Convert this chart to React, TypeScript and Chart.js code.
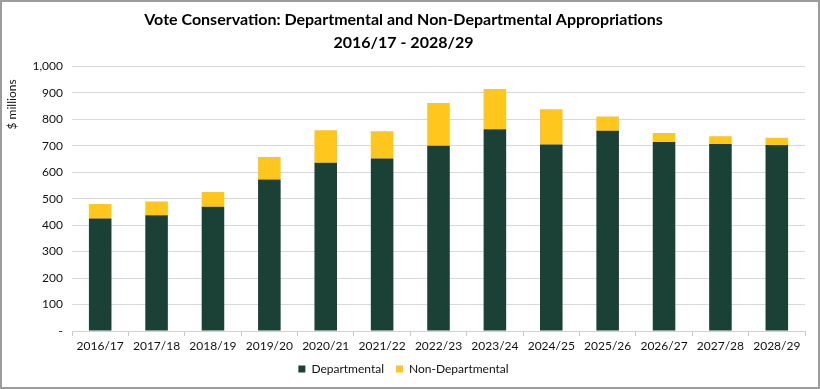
import React, { useEffect, useRef } from "react";
import { Chart, registerables } from "chart.js";

Chart.register(...registerables);

const categories = [
  "2016/17", "2017/18", "2018/19", "2019/20", "2020/21", "2021/22", "2022/23",
  "2023/24", "2024/25", "2025/26", "2026/27", "2027/28", "2028/29",
];
const departmental = [425, 437, 470, 573, 636, 652, 700, 762, 705, 757, 714, 707, 703];
const nonDepartmental = [55, 52, 55, 85, 123, 103, 162, 153, 133, 54, 34, 29, 27];
const yTicks = [0, 100, 200, 300, 400, 500, 600, 700, 800, 900, 1000];

const titleLines = [
  "Vote Conservation: Departmental and Non-Departmental Appropriations",
  "2016/17 - 2028/29",
];
const yAxisTitle = "$ millions";

const FONT = "Lato, 'Open Sans', 'DejaVu Sans', sans-serif";

const axisTitlePlugin = {
  id: "axisTitlePlugin",
  afterDraw(chart: any) {
    const ctx = chart.ctx;
    const area = chart.chartArea;
    ctx.save();
    ctx.font = `12px ${FONT}`;
    ctx.fillStyle = "#111";
    ctx.translate(10, area.top + 13);
    ctx.rotate(-Math.PI / 2);
    ctx.textAlign = "right";
    ctx.textBaseline = "middle";
    ctx.fillText(yAxisTitle, 0, 0);
    ctx.restore();
  },
};

export default function App() {
  const ref = useRef<HTMLCanvasElement | null>(null);

  useEffect(() => {
    document.body.style.margin = "0";
    const canvas = ref.current;
    if (!canvas) return;
    const chart = new Chart(canvas, {
      type: "bar",
      data: {
        labels: categories,
        datasets: [
          {
            label: "Departmental",
            data: departmental,
            backgroundColor: "#1b4036",
            borderWidth: 0,
            barPercentage: 0.4,
            categoryPercentage: 1,
          },
          {
            label: "Non-Departmental",
            data: nonDepartmental,
            backgroundColor: "#ffc61e",
            borderWidth: 0,
            barPercentage: 0.4,
            categoryPercentage: 1,
          },
        ],
      },
      options: {
        responsive: false,
        animation: false,
        maintainAspectRatio: false,
        layout: { padding: { left: 0, right: 13, top: 0, bottom: 2 } },
        plugins: {
          title: {
            display: true,
            text: titleLines,
            color: "#000",
            font: { family: FONT, size: 16, weight: "bold", lineHeight: 1.45 },
            padding: { top: 6, bottom: 12 },
          },
          legend: {
            display: true,
            position: "bottom",
            labels: {
              color: "#111",
              font: { family: FONT, size: 12 },
              boxWidth: 7,
              boxHeight: 7,
              padding: 12,
            },
          },
          tooltip: { enabled: false },
        },
        scales: {
          x: {
            stacked: true,
            offset: true,
            grid: {
              display: true,
              drawOnChartArea: false,
              drawTicks: true,
              tickLength: 5,
              offset: true,
              color: "#c8c8c8",
            },
            border: { display: true, color: "#d0d0d0" },
            ticks: {
              color: "#111",
              font: { family: FONT, size: 12 },
              padding: 3,
              maxRotation: 0,
              autoSkip: false,
            },
            afterFit(scale: any) {
              scale.height = 20;
            },
          },
          y: {
            stacked: true,
            min: 0,
            max: 1000,
            afterBuildTicks(scale: any) {
              scale.ticks = yTicks.map((v) => ({ value: v }));
            },
            grid: { color: "#d9d9d9", drawTicks: false, lineWidth: 1 },
            border: { display: false },
            ticks: {
              color: "#111",
              font: { family: FONT, size: 12 },
              padding: 9,
              callback: (v: any) => (Number(v) === 0 ? "-" : Number(v).toLocaleString("en-US")),
            },
            afterFit(scale: any) {
              scale.width = 70;
            },
          },
        },
      },
      plugins: [axisTitlePlugin],
    });
    return () => chart.destroy();
  }, []);

  return (
    <div
      style={{
        position: "relative",
        width: 820,
        height: 389,
        boxSizing: "border-box",
        border: "2px solid #9c9c9c",
        background: "#fff",
      }}
    >
      <canvas ref={ref} width={816} height={385} style={{ display: "block", width: 816, height: 385 }} />
    </div>
  );
}
